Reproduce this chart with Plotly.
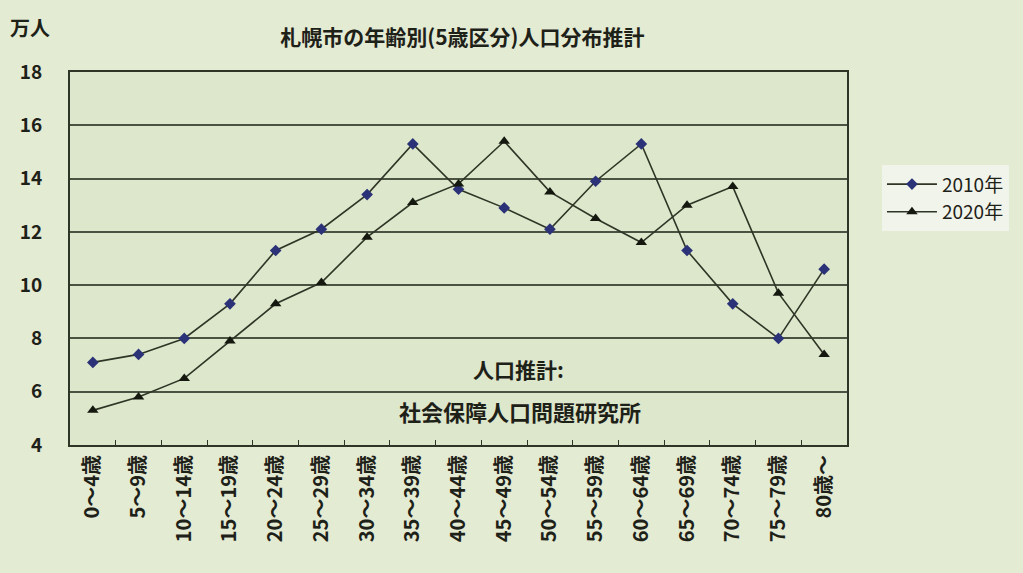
import plotly.graph_objects as go

categories = ["0～4歳", "5～9歳", "10～14歳", "15～19歳", "20～24歳", "25～29歳",
              "30～34歳", "35～39歳", "40～44歳", "45～49歳", "50～54歳", "55～59歳",
              "60～64歳", "65～69歳", "70～74歳", "75～79歳", "80歳～"]
pop_2010 = [7.1, 7.4, 8.0, 9.3, 11.3, 12.1, 13.4, 15.3, 13.6, 12.9, 12.1, 13.9,
            15.3, 11.3, 9.3, 8.0, 10.6]
pop_2020 = [5.3, 5.8, 6.5, 7.9, 9.3, 10.1, 11.8, 13.1, 13.8, 15.4, 13.5, 12.5,
            11.6, 13.0, 13.7, 9.7, 7.4]
y_ticks = [4, 6, 8, 10, 12, 14, 16, 18]

FONT = "Noto Sans CJK JP"
LINE = "#2e3526"
TXT = "#1e2118"

fig = go.Figure()
fig.add_trace(go.Scatter(
    x=categories, y=pop_2010, name="2010年", mode="lines+markers",
    line=dict(color=LINE, width=1.6),
    marker=dict(symbol="diamond", size=9, color="#2b3278", line=dict(width=0)),
))
fig.add_trace(go.Scatter(
    x=categories, y=pop_2020, name="2020年", mode="lines+markers",
    line=dict(color=LINE, width=1.6),
    marker=dict(symbol="triangle-up", size=10, color="#15180f", line=dict(width=0)),
))

fig.update_layout(
    width=1023, height=573,
    margin=dict(l=70, r=176, t=72, b=128),
    paper_bgcolor="#e3ebd3",
    plot_bgcolor="#dde7cb",
    font=dict(family=FONT, color=TXT),
    title=dict(text="<b>札幌市の年齢別(5歳区分)人口分布推計</b>", x=0.452, xanchor="center",
               y=1 - 38 / 573, yanchor="middle", font=dict(size=21, family=FONT, color=TXT)),
    showlegend=True,
    legend=dict(x=1.045, y=0.75, xanchor="left", yanchor="top",
                bgcolor="#f1f4ea", borderwidth=0,
                font=dict(size=19, family=FONT, color=TXT),
                tracegroupgap=0, itemwidth=50),
    xaxis=dict(
        type="category", showgrid=False, showline=True, linecolor=LINE, linewidth=2,
        mirror=True, ticks="inside", tickson="boundaries", ticklen=5, tickcolor=LINE,
        tickangle=-90, tickfont=dict(size=20, family=FONT, weight="bold", color=TXT),
        range=[-0.5, len(categories) - 0.5],
    ),
    yaxis=dict(
        range=[4, 18], tickvals=y_ticks, showgrid=True, gridcolor="#4a5242", gridwidth=1.5,
        showline=True, linecolor=LINE, linewidth=2, mirror=True, ticks="",
        ticklabelstandoff=22, zeroline=False,
        tickfont=dict(size=19, family=FONT, weight="bold", color=TXT),
    ),
    annotations=[
        dict(text="<b>万人</b>", xref="paper", yref="paper", x=-0.08, y=1 + 44 / 373,
             xanchor="left", yanchor="middle", showarrow=False,
             font=dict(size=20, family=FONT, color=TXT)),
        dict(text="<b>人口推計:</b>", xref="paper", yref="paper", x=(518 - 70) / 777,
             y=(445 - 369) / 373, xanchor="center", yanchor="middle", showarrow=False,
             font=dict(size=21, family=FONT, color=TXT)),
        dict(text="<b>社会保障人口問題研究所</b>", xref="paper", yref="paper", x=(520 - 70) / 777,
             y=(445 - 411) / 373, xanchor="center", yanchor="middle", showarrow=False,
             font=dict(size=22, family=FONT, color=TXT)),
    ],
)

fig.write_html("out.html")
